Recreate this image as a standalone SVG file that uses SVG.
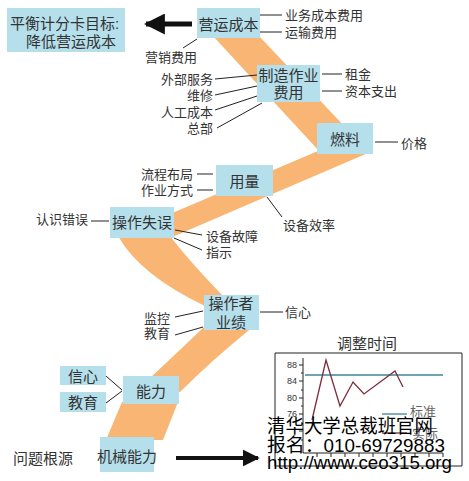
<svg xmlns="http://www.w3.org/2000/svg" width="469" height="481" viewBox="0 0 469 481">
<defs>
<style>
text{font-family:"Liberation Sans","Noto Sans CJK SC",sans-serif;fill:#333;dominant-baseline:central}
.b{font-size:15px}
.l{font-size:13px}
.m{text-anchor:middle}
.box{fill:#b5dfeb}
.band{fill:#f8b573}
.ln{stroke:#222;stroke-width:1;fill:none}
.wm{font-size:19px;fill:#000}
.tk{font-size:9px;fill:#333;text-anchor:end}
</style>
<marker id="ah" viewBox="0 0 10 10" refX="9" refY="5" markerWidth="4.2" markerHeight="4.2" orient="auto" markerUnits="strokeWidth"><path d="M0,0 L10,5 L0,10 Z" fill="#111"/></marker>
</defs>
<rect width="469" height="481" fill="#fff"/>

<g id="ribbon">
<path class="band" d="M213,36 L259,36 L346,128 L320,152 Z"/>
<path class="band" d="M325,148 L368,153 L170,238 L170,214 Z"/>
<path class="band" d="M118,236 L170,236 Q190,262 224,297 L205,306 Q140,275 118,236 Z"/>
<path class="band" d="M205,326 L254,326 Q212,360 180,392 L150,378 Q180,350 205,326 Z"/>
<path class="band" d="M122,402 L178,402 L163,440 L106,440 Z"/>
</g>

<g id="connectors">
<line class="ln" x1="260" y1="15" x2="282" y2="15"/>
<line class="ln" x1="260" y1="32" x2="282" y2="32"/>
<line class="ln" x1="197" y1="39" x2="183" y2="48"/>
<line class="ln" x1="215" y1="79" x2="257" y2="75"/>
<line class="ln" x1="215" y1="95" x2="257" y2="86"/>
<line class="ln" x1="215" y1="110" x2="257" y2="96"/>
<line class="ln" x1="217" y1="128" x2="262" y2="103"/>
<line class="ln" x1="322" y1="74" x2="342" y2="74"/>
<line class="ln" x1="322" y1="91" x2="342" y2="91"/>
<line class="ln" x1="375" y1="142" x2="398" y2="142"/>
<line class="ln" x1="197" y1="174" x2="213" y2="174"/>
<line class="ln" x1="197" y1="190" x2="213" y2="190"/>
<line class="ln" x1="267" y1="197" x2="282" y2="217"/>
<line class="ln" x1="91" y1="221" x2="109" y2="221"/>
<line class="ln" x1="175" y1="230" x2="202" y2="235"/>
<line class="ln" x1="174" y1="238" x2="202" y2="250"/>
<line class="ln" x1="175" y1="317" x2="203" y2="311"/>
<line class="ln" x1="175" y1="335" x2="203" y2="327"/>
<line class="ln" x1="260" y1="312" x2="283" y2="312"/>
<line class="ln" x1="106" y1="376" x2="122" y2="390"/>
<line class="ln" x1="106" y1="403" x2="122" y2="391"/>
<line x1="192" y1="24" x2="146" y2="24" stroke="#111" stroke-width="5" marker-end="url(#ah)"/>
<line x1="176" y1="458" x2="258" y2="458" stroke="#111" stroke-width="4" marker-end="url(#ah)"/>
</g>

<g id="goal">
<rect class="box" x="7" y="8" width="118" height="44"/>
<text class="b" x="10" y="23">平衡计分卡目标:</text>
<text class="b" x="26" y="41">降低营运成本</text>
</g>

<g id="n-yunying">
<rect class="box" x="197" y="8" width="63" height="30"/>
<text class="b m" x="228.5" y="24">营运成本</text>
</g>
<text class="l" x="285" y="15">业务成本费用</text>
<text class="l" x="285" y="32">运输费用</text>
<text class="l" x="145" y="57">营销费用</text>

<g id="n-zhizao">
<rect class="box" x="257" y="65" width="63" height="37"/>
<text class="b m" x="288.5" y="75">制造作业</text>
<text class="b m" x="288.5" y="92">费用</text>
</g>
<text class="l" x="213" y="79" text-anchor="end">外部服务</text>
<text class="l" x="213" y="95" text-anchor="end">维修</text>
<text class="l" x="213" y="112" text-anchor="end">人工成本</text>
<text class="l" x="213" y="128" text-anchor="end">总部</text>
<text class="l" x="345" y="74">租金</text>
<text class="l" x="345" y="91">资本支出</text>

<g id="n-ranliao">
<rect class="box" x="317" y="123" width="56" height="31"/>
<text class="b m" x="345" y="139">燃料</text>
</g>
<text class="l" x="401" y="143">价格</text>

<g id="n-yongliang">
<rect class="box" x="216" y="165" width="57" height="31"/>
<text class="b m" x="244.5" y="181">用量</text>
</g>
<text class="l" x="193" y="174" text-anchor="end">流程布局</text>
<text class="l" x="193" y="190" text-anchor="end">作业方式</text>
<text class="l" x="283" y="225">设备效率</text>

<g id="n-shiwu">
<rect class="box" x="110" y="207" width="64" height="31"/>
<text class="b m" x="142" y="222">操作失误</text>
</g>
<text class="l" x="88" y="219" text-anchor="end">认识错误</text>
<text class="l" x="206" y="236">设备故障</text>
<text class="l" x="206" y="252">指示</text>

<g id="n-yeji">
<rect class="box" x="204" y="295" width="55" height="35"/>
<text class="b m" x="231" y="303">操作者</text>
<text class="b m" x="231" y="322">业绩</text>
</g>
<text class="l" x="170" y="318" text-anchor="end">监控</text>
<text class="l" x="170" y="333" text-anchor="end">教育</text>
<text class="l" x="285" y="312">信心</text>

<g id="n-nengli">
<rect class="box" x="123" y="376" width="56" height="28"/>
<text class="b m" x="151" y="391">能力</text>
</g>
<g id="n-xinxin">
<rect class="box" x="60" y="366" width="46" height="19"/>
<text class="b m" x="83" y="376">信心</text>
</g>
<g id="n-jiaoyu">
<rect class="box" x="60" y="392" width="46" height="20"/>
<text class="b m" x="83" y="402">教育</text>
</g>

<g id="n-jixie">
<rect class="box" x="100" y="437" width="54" height="35"/>
<text class="b m" x="127" y="456">机械能力</text>
</g>
<text class="b" x="13" y="458">问题根源</text>

<g id="chart">
<text class="b m" x="367" y="343">调整时间</text>
<path class="ln" d="M275,466 V353 H462 V466 H275"/>
<line class="ln" x1="303" y1="358" x2="303" y2="453"/>
<line class="ln" x1="303" y1="453" x2="443" y2="453"/>
<path class="ln" d="M299,365 H303 M301,373 H303 M299,381 H303 M301,390 H303 M299,398 H303 M301,406 H303 M299,414 H303 M301,423 H303 M299,431 H303 M301,440 H303"/>
<path class="ln" d="M317,453 V457 M331,453 V457 M345,453 V457 M359,453 V457 M373,453 V457 M387,453 V457 M401,453 V457 M415,453 V457 M429,453 V457 M443,453 V457"/>
<text class="tk" x="297" y="365">88</text>
<text class="tk" x="297" y="381">84</text>
<text class="tk" x="297" y="398">80</text>
<text class="tk" x="297" y="414">76</text>
<line x1="305" y1="375" x2="443" y2="375" stroke="#3b8796" stroke-width="1.3"/>
<polyline points="312,420 326,360 340,406 353,382 364,394 395,371 403,387" fill="none" stroke="#7a2c3c" stroke-width="1.3"/>
<line x1="382" y1="414" x2="407" y2="414" stroke="#3b8796" stroke-width="1.3"/>
<text class="l" x="410" y="411" style="fill:#666">标准</text>
<line x1="382" y1="433" x2="407" y2="433" stroke="#7a2c3c" stroke-width="1.3"/>
<text class="l" x="412" y="433" style="fill:#666">实际</text>
</g>

<g id="watermark">
<text class="wm" x="267" y="426" textLength="166" lengthAdjust="spacingAndGlyphs">清华大学总裁班官网</text>
<text class="wm" x="267" y="445" textLength="178" lengthAdjust="spacingAndGlyphs">报名：010-69729883</text>
<text class="wm" x="267" y="462" textLength="185" lengthAdjust="spacingAndGlyphs">http://www.ceo315.org</text>
</g>
</svg>
